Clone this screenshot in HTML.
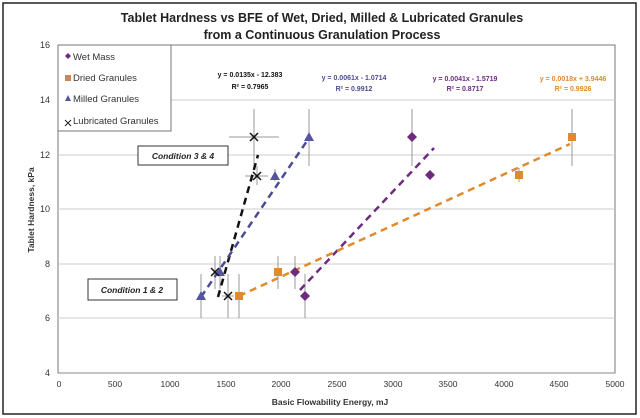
<!DOCTYPE html>
<html><head><meta charset="utf-8"><style>
body{margin:0;background:#fff}
svg{display:block;font-family:"Liberation Sans",sans-serif}
</style></head><body>
<svg width="640" height="418" viewBox="0 0 640 418">
<rect x="3" y="3" width="633" height="411" fill="#fff" stroke="#222" stroke-width="1.5"/>
<text x="322" y="22" text-anchor="middle" font-size="12.5" font-weight="bold" fill="#222">Tablet Hardness vs BFE of Wet, Dried, Milled &amp; Lubricated Granules</text>
<text x="322" y="39" text-anchor="middle" font-size="12.5" font-weight="bold" fill="#222">from a Continuous Granulation Process</text>
<rect x="58" y="45" width="557" height="328" fill="none" stroke="#777" stroke-width="1"/>
<g stroke="#ccc" stroke-width="1">
<line x1="58" y1="100" x2="615" y2="100"/><line x1="58" y1="155" x2="615" y2="155"/>
<line x1="58" y1="209" x2="615" y2="209"/><line x1="58" y1="264" x2="615" y2="264"/>
<line x1="58" y1="318" x2="615" y2="318"/>
</g>
<line x1="58" y1="373" x2="615" y2="373" stroke="#888"/>
<g font-size="9" fill="#333" text-anchor="end">
<text x="50" y="48">16</text><text x="50" y="103">14</text><text x="50" y="158">12</text>
<text x="50" y="212">10</text><text x="50" y="267">8</text><text x="50" y="321">6</text><text x="50" y="376">4</text>
</g>
<g font-size="8.5" fill="#333" text-anchor="middle">
<text x="59" y="387">0</text><text x="115" y="387">500</text><text x="170" y="387">1000</text>
<text x="226" y="387">1500</text><text x="281" y="387">2000</text><text x="337" y="387">2500</text>
<text x="393" y="387">3000</text><text x="448" y="387">3500</text><text x="504" y="387">4000</text>
<text x="559" y="387">4500</text><text x="615" y="387">5000</text>
</g>
<text x="330" y="405" text-anchor="middle" font-size="8.5" font-weight="bold" fill="#333">Basic Flowability Energy, mJ</text>
<text transform="translate(34,210) rotate(-90)" text-anchor="middle" font-size="8.5" font-weight="bold" fill="#333">Tablet Hardness, kPa</text>
<g stroke="#999" stroke-width="1">
<line x1="295" y1="256" x2="295" y2="289"/><line x1="305" y1="274" x2="305" y2="318"/>
<line x1="412" y1="109" x2="412" y2="166"/><line x1="430" y1="170" x2="430" y2="180"/>
<line x1="239" y1="274" x2="239" y2="318"/><line x1="278" y1="256" x2="278" y2="289"/>
<line x1="519" y1="168" x2="519" y2="182"/><line x1="572" y1="109" x2="572" y2="166"/>
<line x1="201" y1="274" x2="201" y2="318"/><line x1="220" y1="256" x2="220" y2="289"/>
<line x1="275" y1="169" x2="275" y2="181"/><line x1="309" y1="109" x2="309" y2="166"/>
<line x1="215" y1="256" x2="215" y2="289"/><line x1="228" y1="274" x2="228" y2="318"/>
<line x1="254" y1="109" x2="254" y2="166"/><line x1="257" y1="166" x2="257" y2="185"/>
<line x1="229" y1="137" x2="279" y2="137"/><line x1="245" y1="176" x2="268" y2="176"/>
<line x1="222" y1="296" x2="234" y2="296"/>
</g>
<g stroke-width="2.5" stroke-dasharray="7,5" fill="none">
<line x1="218" y1="297" x2="258" y2="155" stroke="#111"/>
<line x1="201" y1="297" x2="309" y2="138" stroke="#4b4b95"/>
<line x1="300" y1="290" x2="434" y2="148" stroke="#6e2a7e"/>
<line x1="239" y1="296" x2="570" y2="144" stroke="#e08a2c"/>
</g>
<g fill="#6e2a7e">
<path d="M295,267 l5,5 -5,5 -5,-5z"/><path d="M305,291 l5,5 -5,5 -5,-5z"/>
<path d="M412,132 l5,5 -5,5 -5,-5z"/><path d="M430,170 l5,5 -5,5 -5,-5z"/>
</g>
<g fill="#e08a2c">
<rect x="235" y="292" width="8" height="8"/><rect x="274" y="268" width="8" height="8"/>
<rect x="515" y="171" width="8" height="8"/><rect x="568" y="133" width="8" height="8"/>
</g>
<g fill="#5555a0">
<path d="M201,291 l5,9 h-10z"/><path d="M220,267 l5,9 h-10z"/>
<path d="M275,171 l5,9 h-10z"/><path d="M309,132 l5,9 h-10z"/>
</g>
<g stroke="#111" stroke-width="1.5">
<path d="M211,268 l8,8 M219,268 l-8,8"/><path d="M224,292 l8,8 M232,292 l-8,8"/>
<path d="M250,133 l8,8 M258,133 l-8,8"/><path d="M253,172 l8,8 M261,172 l-8,8"/>
</g>
<g font-size="7" font-weight="bold" text-anchor="middle">
<text x="250" y="77" fill="#111">y = 0.0135x - 12.383</text><text x="250" y="89" fill="#111">R² = 0.7965</text>
<text x="354" y="80" fill="#4b4b95">y = 0.0061x - 1.0714</text><text x="354" y="91" fill="#4b4b95">R² = 0.9912</text>
<text x="465" y="81" fill="#6e2a7e">y = 0.0041x - 1.5719</text><text x="465" y="91" fill="#6e2a7e">R² = 0.8717</text>
<text x="573" y="81" fill="#e08a2c">y = 0.0018x + 3.9446</text><text x="573" y="91" fill="#e08a2c">R² = 0.9926</text>
</g>
<rect x="58" y="45" width="113" height="86" fill="#fff" stroke="#777"/>
<g font-size="9.5" fill="#333">
<path d="M68,53 l3,3 -3,3 -3,-3z" fill="#6e2a7e"/><text x="73" y="60">Wet Mass</text>
<rect x="65" y="75" width="6" height="6" fill="#c98a55"/><text x="73" y="81">Dried Granules</text>
<path d="M68,95 l3,6 h-6z" fill="#5555a0"/><text x="73" y="102">Milled Granules</text>
<path d="M65,120 l6,6 M71,120 l-6,6" stroke="#222" stroke-width="1"/><text x="73" y="124">Lubricated Granules</text>
</g>
<rect x="138" y="146" width="90" height="19" fill="#fff" stroke="#333"/>
<text x="183" y="159" text-anchor="middle" font-size="8.5" font-style="italic" font-weight="bold" fill="#222">Condition 3 &amp; 4</text>
<rect x="88" y="279" width="89" height="21" fill="#fff" stroke="#333"/>
<text x="132" y="293" text-anchor="middle" font-size="8.5" font-style="italic" font-weight="bold" fill="#222">Condition 1 &amp; 2</text>
</svg>
</body></html>
